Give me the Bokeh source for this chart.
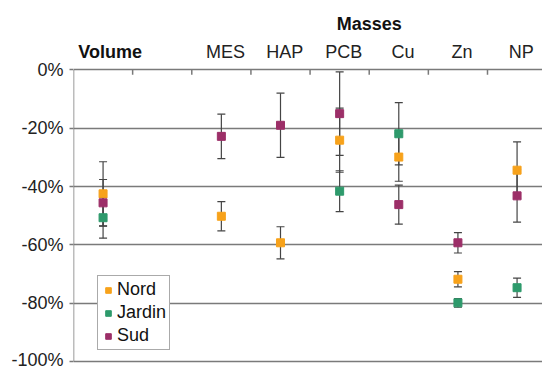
from bokeh.plotting import figure
from bokeh.models import (ColumnDataSource, Whisker, TeeHead, FixedTicker,
                          Legend, LegendItem, Range1d)
from bokeh.core.properties import value
from bokeh.embed import file_html
from bokeh.resources import INLINE

# ---- data ----
categories = ["Volume", "", "MES", "HAP", "PCB", "Cu", "Zn", "NP"]
group_title = "Masses"
nord_mean   = [-42.5, None, -50.2, -59.3, -24.1, -29.9, -71.8, -34.4]
nord_err    = [11.0, None, 5.0, 5.5, 11.0, 8.3, 2.6, 9.7]
jardin_mean = [-50.7, None, None, None, -41.6, -21.9, -79.9, -74.7]
jardin_err  = [7.0, None, None, None, 7.0, 10.7, 1.5, 3.3]
sud_mean    = [-45.6, None, -22.8, -19.0, -15.0, -46.2, -59.3, -43.2]
sud_err     = [8.0, None, 7.6, 11.0, 14.3, 6.7, 3.5, 9.0]
y_ticks = [0, -20, -40, -60, -80, -100]

series = [("Nord", nord_mean, nord_err, "#F7A21B"),
          ("Jardin", jardin_mean, jardin_err, "#2E9A6C"),
          ("Sud", sud_mean, sud_err, "#9C2F68")]

FONT = "Liberation Sans"
GRID = "#7a7a7a"
FS = "18px"

n = len(categories)
p = figure(width=542, height=369, output_backend="svg", toolbar_location=None,
           x_range=Range1d(0, 7.93), y_range=Range1d(-100.7, 23.8),
           x_axis_location=None, y_axis_location="left",
           min_border_left=73, min_border_right=0, min_border_top=0,
           min_border_bottom=6)
p.outline_line_color = None
p.xgrid.visible = False
p.ygrid.grid_line_color = GRID
p.ygrid.grid_line_width = 1.5
p.ygrid.ticker = FixedTicker(ticks=y_ticks)

ya = p.yaxis[0]
ya.ticker = FixedTicker(ticks=y_ticks)
ya.major_label_overrides = {t: f"{t}%" for t in y_ticks}
ya.major_label_text_font = FONT
ya.major_label_text_font_size = FS
ya.major_label_text_color = "#222222"
ya.axis_line_color = None
ya.major_tick_line_color = GRID
ya.major_tick_line_width = 1.5
ya.major_tick_out = 4
ya.major_tick_in = 0
ya.minor_tick_line_color = None
ya.major_label_standoff = 6

# y axis line from 0% to -100%
p.segment(x0=[0], y0=[y_ticks[0]], x1=[0], y1=[y_ticks[-1]], line_color=GRID, line_width=1.5)
# category boundary ticks on the 0% line
bounds = list(range(1, n))
p.segment(x0=bounds, y0=[0] * len(bounds), x1=bounds, y1=[-1.7] * len(bounds),
          line_color=GRID, line_width=1.5)

centers = [i + 0.5 for i in range(n)]
# category labels
lab_x = [c + 0.07 for c in centers[2:]]
p.text(x=lab_x, y=[6.0] * len(lab_x), text=categories[2:], text_font=value(FONT),
       text_font_size=FS, text_color="#222222", text_align="center", text_baseline="middle")
p.text(x=[centers[0] + 0.12], y=[6.0], text=[categories[0]], text_font=value(FONT),
       text_font_size=FS, text_font_style="bold", text_color="#111111",
       text_align="center", text_baseline="middle")
p.text(x=[(centers[2] + centers[7]) / 2], y=[15.9], text=[group_title], text_font=value(FONT),
       text_font_size=FS, text_font_style="bold", text_color="#111111",
       text_align="center", text_baseline="middle")

items = []
for name, means, errs, color in series:
    xs, ys, lo, hi = [], [], [], []
    for i, (m, e) in enumerate(zip(means, errs)):
        if m is None:
            continue
        xs.append(centers[i]); ys.append(m); lo.append(m - e); hi.append(m + e)
    src = ColumnDataSource(dict(x=xs, y=ys, lower=lo, upper=hi))
    w = Whisker(source=src, base="x", lower="lower", upper="upper", dimension="height",
                line_color="#444444", line_width=1.2,
                upper_head=TeeHead(size=8, line_color="#444444", line_width=1.2),
                lower_head=TeeHead(size=8, line_color="#444444", line_width=1.2))
    p.add_layout(w)
    r = p.scatter("x", "y", source=src, marker="square", size=8, fill_color=color,
                  line_color=color)
    items.append(LegendItem(label=name, renderers=[r]))

legend = Legend(items=items, location=(24, 13))
legend.label_text_font = FONT
legend.label_text_font_size = FS
legend.label_text_color = "#111111"
legend.glyph_width = 14
legend.glyph_height = 20
legend.label_height = 20
legend.label_standoff = 2
legend.spacing = 2
legend.padding = 3
legend.margin = 0
legend.border_line_color = "#555555"
legend.border_line_width = 1
legend.background_fill_color = "white"
legend.background_fill_alpha = 1
p.add_layout(legend)

open("out.html", "w").write(file_html(p, INLINE))
